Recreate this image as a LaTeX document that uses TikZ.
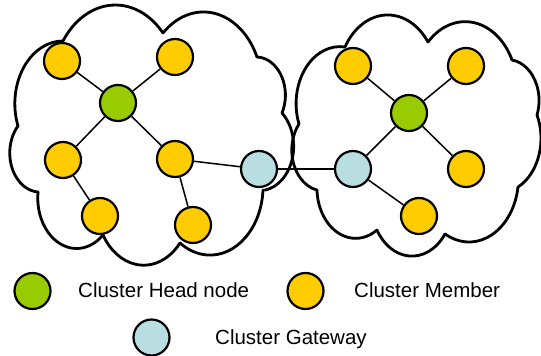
\documentclass[tikz,border=0pt]{standalone}
\usepackage{fontspec}
\setmainfont{Liberation Sans}

\definecolor{headgreen}{RGB}{153,204,0}
\definecolor{memberyellow}{RGB}{255,204,0}
\definecolor{gatewayblue}{RGB}{184,222,225}

% One puff of a cloud outline: an elliptical arc (height/width = 1.3)
% from (#1,#2) through (#3,#4) to (#5,#6), run clockwise.
% Points are given with y counted downwards from the top edge (356).
\newcommand\cloudpuff[6]{%
  \pgfmathsetmacro\cfax{#1/100}\pgfmathsetmacro\cfay{(356-#2)/130}%
  \pgfmathsetmacro\cfbx{#3/100}\pgfmathsetmacro\cfby{(356-#4)/130}%
  \pgfmathsetmacro\cfcx{#5/100}\pgfmathsetmacro\cfcy{(356-#6)/130}%
  \pgfmathsetmacro\cfd{2*(\cfax*(\cfby-\cfcy)+\cfbx*(\cfcy-\cfay)+\cfcx*(\cfay-\cfby))}%
  \pgfmathsetmacro\cfsa{\cfax*\cfax+\cfay*\cfay}%
  \pgfmathsetmacro\cfsb{\cfbx*\cfbx+\cfby*\cfby}%
  \pgfmathsetmacro\cfsc{\cfcx*\cfcx+\cfcy*\cfcy}%
  \pgfmathsetmacro\cfux{(\cfsa*(\cfby-\cfcy)+\cfsb*(\cfcy-\cfay)+\cfsc*(\cfay-\cfby))/\cfd}%
  \pgfmathsetmacro\cfuy{(\cfsa*(\cfcx-\cfbx)+\cfsb*(\cfax-\cfcx)+\cfsc*(\cfbx-\cfax))/\cfd}%
  \pgfmathsetmacro\cfr{veclen(\cfax-\cfux,\cfay-\cfuy)}%
  \pgfmathsetmacro\cfstart{atan2(\cfay-\cfuy,\cfax-\cfux)}%
  \pgfmathsetmacro\cfend{atan2(\cfcy-\cfuy,\cfcx-\cfux)}%
  \pgfmathsetmacro\cfstop{\cfstart-mod(\cfstart-\cfend+720,360)}%
  \pgfmathsetmacro\cfrx{\cfr*100}\pgfmathsetmacro\cfry{\cfr*130}%
  \draw[cloudline] (#1,356-#2) arc[start angle=\cfstart, end angle=\cfstop,
    x radius=\cfrx pt, y radius=\cfry pt];%
}

\tikzset{
  cloudline/.style={line width=2.8pt, line cap=round},
  dot/.style={circle, draw, line width=2.2pt, minimum size=36pt, inner sep=0pt},
  headnode/.style={dot, fill=headgreen},
  member/.style={dot, fill=memberyellow},
  gateway/.style={dot, fill=gatewayblue},
  link/.style={line width=1.5pt},
  legendtext/.style={anchor=base west, inner sep=0pt, font=\fontsize{20.5}{24}\selectfont}
}

\begin{document}
\begin{tikzpicture}[x=1pt, y=1pt]
\useasboundingbox (0,0) rectangle (541,356);
\fill[white] (0,0) rectangle (541,356);

% left cluster outline
\cloudpuff{18}{126}{30}{58}{63}{41}
\cloudpuff{63}{41}{115}{5}{163}{33}
\cloudpuff{163}{33}{205}{12}{257}{57}
\cloudpuff{257}{57}{283}{80}{282}{113}
\cloudpuff{282}{113}{293}{155}{265}{190}
\cloudpuff{263}{190}{240}{243}{180}{243}
\cloudpuff{180}{243}{140}{265}{103}{235}
\cloudpuff{103}{235}{55}{240}{38}{192}
\cloudpuff{38}{192}{10}{158}{18}{126}

% right cluster outline
\cloudpuff{299}{124}{317}{55}{345}{47}
\cloudpuff{345}{47}{390}{15}{428}{42}
\cloudpuff{428}{42}{470}{22}{512}{60}
\cloudpuff{512}{60}{538}{90}{537}{115}
\cloudpuff{537}{115}{540}{150}{518}{187}
\cloudpuff{518}{187}{490}{236}{445}{234}
\cloudpuff{445}{234}{410}{256}{377}{230}
\cloudpuff{377}{230}{340}{234}{317}{190}
\cloudpuff{317}{190}{292}{155}{299}{124}

% left cluster
\node[member]   (y1)  at (62,295)  {};
\node[member]   (y2)  at (175,299) {};
\node[headnode] (h1)  at (118,253) {};
\node[member]   (y3)  at (63,196)  {};
\node[member]   (y4)  at (175,197) {};
\node[member]   (y5)  at (100,140) {};
\node[member]   (y6)  at (193,131) {};
\node[gateway]  (gw1) at (259,187) {};

% right cluster
\node[member]   (y7)  at (353,290) {};
\node[member]   (y8)  at (466,290) {};
\node[headnode] (h2)  at (409,243) {};
\node[gateway]  (gw2) at (353,187) {};
\node[member]   (y9)  at (466,187) {};
\node[member]   (y10) at (419,140) {};

% links
\draw[link] (y1) -- (h1);
\draw[link] (y2) -- (h1);
\draw[link] (h1) -- (y3);
\draw[link] (h1) -- (y4);
\draw[link] (y3) -- (y5);
\draw[link] (y4) -- (y6);
\draw[link] (y4) -- (gw1);
\draw[link] (gw1) -- (gw2);
\draw[link] (y7) -- (h2);
\draw[link] (y8) -- (h2);
\draw[link] (h2) -- (gw2);
\draw[link] (h2) -- (y9);
\draw[link] (gw2) -- (y10);

% legend
\node[headnode] (lh) at (32.5,65)  {};
\node[legendtext] (lht) at (78,58.3) {Cluster Head node};
\node[member]   (lm) at (305.5,65) {};
\node[legendtext] (lmt) at (354,58.3) {Cluster Member};
\node[gateway]  (lg) at (151.5,18.5) {};
\node[legendtext] (lgt) at (215,11.8) {Cluster Gateway};
\end{tikzpicture}
\end{document}
